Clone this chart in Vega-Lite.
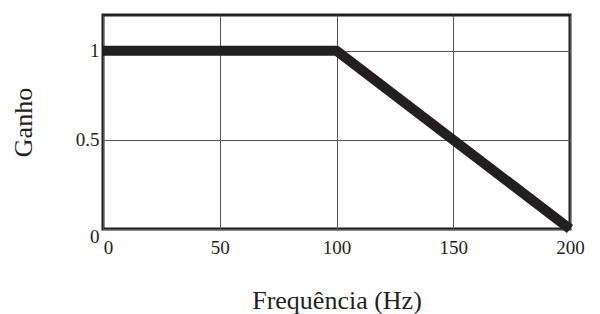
{
  "$schema": "https://vega.github.io/schema/vega-lite/v6.json",
  "width": 467,
  "height": 214,
  "autosize": {"type": "none"},
  "padding": {"left": 103, "top": 15, "right": 30, "bottom": 85},
  "background": "white",
  "config": {
    "view": {"stroke": "#231f20", "strokeWidth": 3},
    "axis": {
      "labelFont": "Liberation Serif",
      "titleFont": "Liberation Serif",
      "labelFontSize": 19,
      "labelColor": "#231f20",
      "titleColor": "#231f20",
      "titleFontWeight": "normal",
      "domain": false,
      "ticks": false,
      "grid": true,
      "gridColor": "#555555",
      "gridWidth": 1
    }
  },
  "data": {"values": [
    {"f": 0, "g": 1},
    {"f": 100, "g": 1},
    {"f": 200, "g": 0}
  ]},
  "mark": {"type": "line", "color": "#231f20", "strokeWidth": 10, "clip": false},
  "encoding": {
    "x": {
      "field": "f", "type": "quantitative",
      "scale": {"domain": [0, 200], "nice": false},
      "axis": {"values": [0, 50, 100, 150, 200], "labelPadding": 9, "labelOffset": {"condition": {"test": "datum.value == 0", "value": 5}, "value": 0}, "title": "Frequência (Hz)", "titleFontSize": 26, "titlePadding": 30, "labelFlush": false}
    },
    "y": {
      "field": "g", "type": "quantitative",
      "scale": {"domain": [0, 1.2], "nice": false},
      "axis": {"values": [0, 0.5, 1], "format": "~g", "labelPadding": 4, "labelOffset": {"condition": {"test": "datum.value == 0", "value": 7}, "value": 0}, "title": "Ganho", "titleFontSize": 26, "titlePadding": 39, "labelFlush": false}
    }
  }
}
